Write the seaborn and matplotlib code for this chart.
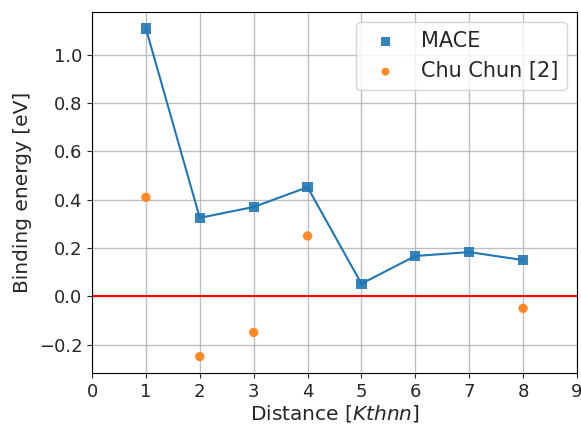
import matplotlib
matplotlib.use("Agg")
import matplotlib.pyplot as plt
import seaborn as sns
import pandas as pd

distance_mace = [1, 2, 3, 4, 5, 6, 7, 8]
energy_mace = [1.11, 0.325, 0.37, 0.452, 0.052, 0.167, 0.183, 0.15]
distance_chu = [1, 2, 3, 4, 8]
energy_chu = [0.41, -0.25, -0.15, 0.25, -0.05]
xticks = list(range(0, 10))

sns.set_style("ticks")
plt.rcParams["font.family"] = ["DejaVu Sans"]
plt.rcParams["font.size"] = 12

fig = plt.figure(figsize=(5.81, 4.24), dpi=100)
ax = fig.add_axes([92/581, 1 - 373/424, (577-92)/581, (373-12)/424])

df_m = pd.DataFrame({"x": distance_mace, "y": energy_mace})
df_c = pd.DataFrame({"x": distance_chu, "y": energy_chu})

sns.scatterplot(data=df_m, x="x", y="y", marker="s", s=55, color="#1f77b4",
                edgecolor="none", alpha=0.9, label="MACE", ax=ax, zorder=3)
sns.scatterplot(data=df_c, x="x", y="y", marker="o", s=45, color="#ff7f0e",
                edgecolor="none", alpha=0.9, label="Chu Chun [2]", ax=ax, zorder=3)
sns.lineplot(data=df_m, x="x", y="y", color="#1f77b4", lw=1.5, ax=ax, zorder=4,
             legend=False)
ax.axhline(0, color="red", lw=1.5, zorder=2)

ax.set_xlim(0, 9)
ax.set_xticks(xticks)
ax.grid(True, color="#b0b0b0", lw=1.0, alpha=0.8)
ax.tick_params(labelsize=13, direction="out", length=3.5, width=0.8, pad=3.5)
for sp in ax.spines.values():
    sp.set_linewidth(0.8)
    sp.set_color("black")
ax.set_xlabel("Distance [$Kthnn$]", fontsize=14.5, labelpad=2)
ax.set_ylabel("Binding energy [eV]", fontsize=14.5, labelpad=5)
ax.legend(loc="upper right", fontsize=15, framealpha=0.8, borderpad=0.4,
          markerscale=0.85, handletextpad=0.7)

fig.savefig("out.png", dpi=100)
